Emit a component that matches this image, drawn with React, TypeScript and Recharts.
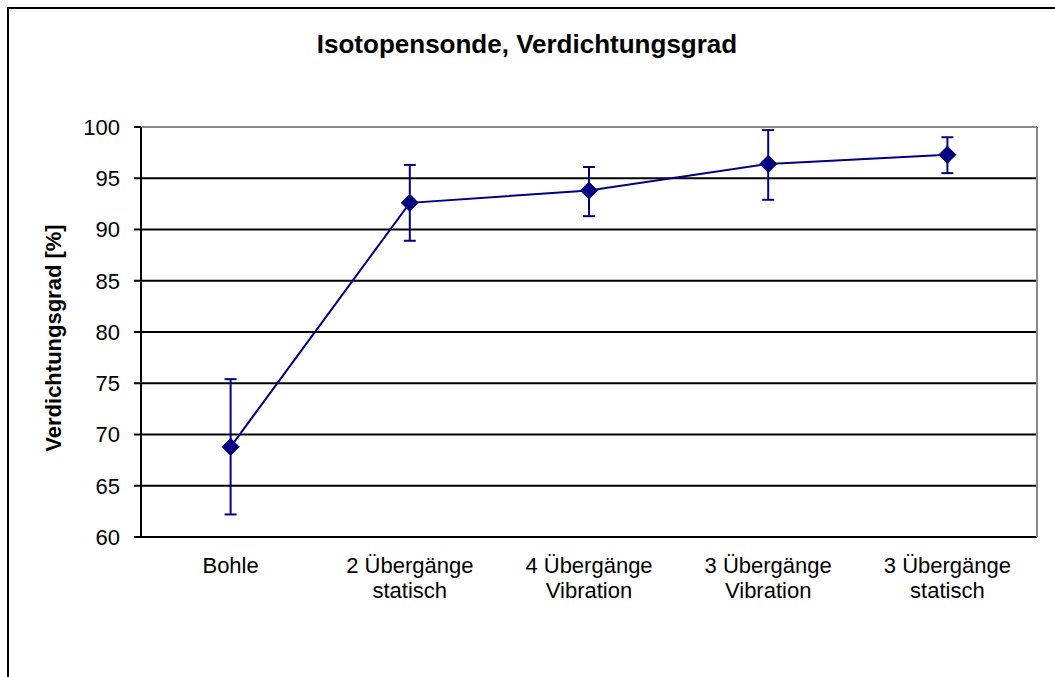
import { LineChart, Line, XAxis, YAxis, CartesianGrid, ErrorBar, ReferenceLine } from 'recharts';

const categories = [
  'Bohle',
  '2 Übergänge\nstatisch',
  '4 Übergänge\nVibration',
  '3 Übergänge\nVibration',
  '3 Übergänge\nstatisch',
];
const meanValues = [68.8, 92.6, 93.8, 96.4, 97.3];
const upperValues = [75.4, 96.3, 96.1, 99.7, 99.0];
const lowerValues = [62.2, 88.9, 91.3, 92.9, 95.5];
const yTicks = [60, 65, 70, 75, 80, 85, 90, 95, 100];

const NAVY = '#000080';
const FONT = '"Liberation Sans", Arial, sans-serif';

const data = categories.map((name, i) => ({
  name,
  pos: i + 0.5,
  value: meanValues[i],
  err: [meanValues[i] - lowerValues[i], upperValues[i] - meanValues[i]],
}));

const boundaryTicks = categories.map((_c, i) => i).concat(categories.length);
const centerTicks = categories.map((_c, i) => i + 0.5);

function Diamond(props: any) {
  const { cx, cy } = props;
  if (cx == null || cy == null) return null;
  const r = 8.5;
  return (
    <path
      d={`M${cx},${cy - r} L${cx + r},${cy} L${cx},${cy + r} L${cx - r},${cy} Z`}
      fill={NAVY}
      stroke={NAVY}
    />
  );
}

function CategoryTick(props: any) {
  const { x, y, payload } = props;
  const lines = categories[Math.floor(payload.value)].split('\n');
  return (
    <text x={x} y={y + 36} textAnchor="middle" fontSize={22} fontFamily={FONT} fill="#000">
      {lines.map((line, i) => (
        <tspan key={i} x={x} dy={i === 0 ? 0 : 25}>
          {line}
        </tspan>
      ))}
    </text>
  );
}

export default function App() {
  return (
    <div style={{ position: 'relative', width: 1055, height: 677 }}>
      <style>{`body { margin: 0; }`}</style>
      <LineChart
        width={1055}
        height={677}
        data={data}
        margin={{ top: 127, right: 18, left: 0, bottom: 70 }}
      >
        <CartesianGrid vertical={false} stroke="#000" strokeWidth={2} />
        <XAxis
          xAxisId="bounds"
          dataKey="pos"
          type="number"
          domain={[0, categories.length]}
          ticks={boundaryTicks}
          tickFormatter={() => ''}
          height={0}
          tickSize={7}
          stroke="#000"
          strokeWidth={2}
        />
        <XAxis
          xAxisId="labels"
          dataKey="pos"
          type="number"
          domain={[0, categories.length]}
          ticks={centerTicks}
          tick={<CategoryTick />}
          tickLine={false}
          axisLine={false}
          tickSize={0}
          tickMargin={0}
          height={70}
          interval={0}
        />
        <YAxis
          type="number"
          domain={[60, 100]}
          ticks={yTicks}
          width={141}
          tickSize={7}
          tickMargin={14}
          stroke="#000"
          strokeWidth={2}
          tick={{ fontSize: 22, fontFamily: FONT, fill: '#000' }}
        />
        <ReferenceLine xAxisId="bounds" y={100} stroke="#888" strokeWidth={2} />
        <ReferenceLine xAxisId="bounds" x={categories.length} stroke="#888" strokeWidth={2} />
        <Line
          xAxisId="bounds"
          dataKey="value"
          stroke={NAVY}
          strokeWidth={2}
          dot={<Diamond />}
          activeDot={false}
          isAnimationActive={false}
        >
          <ErrorBar dataKey="err" direction="y" width={6} stroke={NAVY} strokeWidth={2} />
        </Line>
      </LineChart>
      <svg
        width={1055}
        height={677}
        style={{ position: 'absolute', left: 0, top: 0, pointerEvents: 'none' }}
      >
        <rect x={8} y={8} width={1100} height={700} fill="none" stroke="#000" strokeWidth={2} />
        <text x={527} y={53} textAnchor="middle" fontSize={26} fontWeight="bold" fontFamily={FONT}>
          Isotopensonde, Verdichtungsgrad
        </text>
        <text
          transform="translate(61,338) rotate(-90)"
          textAnchor="middle"
          fontSize={22}
          fontWeight="bold"
          fontFamily={FONT}
        >
          Verdichtungsgrad [%]
        </text>
      </svg>
    </div>
  );
}
